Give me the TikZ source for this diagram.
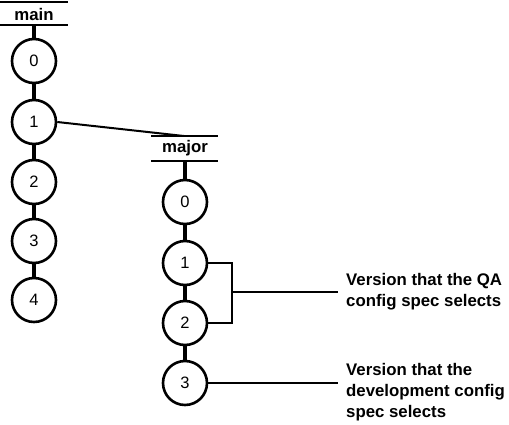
\documentclass[tikz,border=0pt]{standalone}
\usepackage{fontspec}
\setmainfont{Liberation Sans}
\begin{document}
\begin{tikzpicture}[x=1pt,y=-1pt,
  ver/.style={circle,draw,line width=2.6pt,minimum size=44pt,inner sep=0pt,font=\fontsize{16.5}{18}\selectfont},
  stem/.style={line width=3.5pt},
  bar/.style={line width=2.6pt},
  callout/.style={line width=1.3pt},
  lbl/.style={font=\bfseries\fontsize{16.8}{20.8}\selectfont,align=left,anchor=west,inner sep=0pt},
  brname/.style={font=\bfseries\fontsize{16.8}{18}\selectfont,inner sep=0pt}]
\useasboundingbox (0,0) rectangle (509,424);
% main branch
\coordinate (mt1) at (0,2); \coordinate (mt2) at (68,2);
\coordinate (mb1) at (0,25); \coordinate (mb2) at (68,25);
\coordinate (mtc) at (34,25);
\node[brname] (mainlbl) at (34,14) {main};
\node[ver] (m0) at (34,61) {0};
\node[ver] (m1) at (34,122) {1};
\node[ver] (m2) at (34,182) {2};
\node[ver] (m3) at (34,241) {3};
\node[ver] (m4) at (34,300) {4};
\draw[bar] (mt1) -- (mt2);
\draw[bar] (mb1) -- (mb2);
\draw[stem] (mtc) -- (m0.north);
\draw[stem] (m0) -- (m1) (m1) -- (m2) (m2) -- (m3) (m3) -- (m4);
% major branch
\coordinate (jt1) at (151,136); \coordinate (jt2) at (218,136);
\coordinate (jtc) at (184,136);
\coordinate (jb1) at (151,161); \coordinate (jb2) at (218,161);
\coordinate (jbc) at (185,161);
\node[brname] (majorlbl) at (185,148) {major};
\node[ver] (j0) at (185,202) {0};
\node[ver] (j1) at (185,263) {1};
\node[ver] (j2) at (185,323) {2};
\node[ver] (j3) at (185,383) {3};
\draw[bar] (jt1) -- (jt2);
\draw[bar] (jb1) -- (jb2);
\draw[stem] (jbc) -- (j0.north);
\draw[stem] (j0) -- (j1) (j1) -- (j2) (j2) -- (j3);
% branch connector
\draw[line width=2pt] (m1.east) -- (jtc);
% callouts
\coordinate (bk) at (232,292);
\coordinate (e1) at (338,292);
\coordinate (e2) at (338,383);
\draw[callout] (j1.east) -| (bk);
\draw[callout] (j2.east) -| (bk);
\draw[callout] (bk) -- (e1);
\draw[callout] (j3.east) -- (e2);
\node[lbl] (qa) at (346,292) {Version that the QA\\config spec selects};
\node[lbl] (dev) at (346,392) {Version that the\\development config\\spec selects};
\end{tikzpicture}
\end{document}
